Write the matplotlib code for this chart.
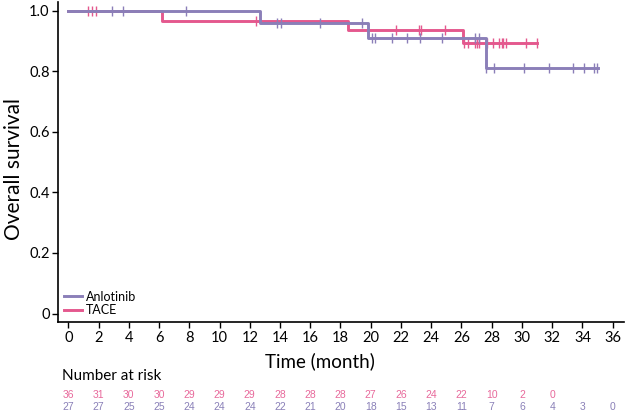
import matplotlib
matplotlib.use("Agg")
import matplotlib.pyplot as plt
import matplotlib.transforms as mtransforms
import numpy as np

# ---- data ----
anl_times = [0, 12.68, 19.8, 27.6, 35.0]
anl_surv = [1.0, 0.960, 0.910, 0.809, 0.809]
anl_cens = [2.87, 3.64, 7.78, 13.78, 14.07, 16.65, 19.4, 20.07, 20.28, 21.43, 22.38,
            23.26, 24.7, 26.9, 27.18, 27.6, 28.15, 30.16, 31.81, 33.4, 34.13, 34.77, 34.95]

tace_times = [0, 6.18, 18.5, 26.1, 31.02]
tace_surv = [1.0, 0.966, 0.936, 0.894, 0.894]
tace_cens = [1.32, 1.59, 1.81, 12.41, 21.67, 23.19, 23.33, 24.93, 26.17, 26.46, 26.9,
             27.01, 27.18, 27.67, 28.1, 28.5, 28.66, 28.77, 28.93, 30.27, 31.02]

risk_times_tace = list(range(0, 33, 2))
risk_tace = [36, 31, 30, 30, 29, 29, 29, 28, 28, 28, 27, 26, 24, 22, 10, 2, 0]
risk_times_anl = list(range(0, 37, 2))
risk_anl = [27, 27, 25, 25, 24, 24, 24, 22, 21, 20, 18, 15, 13, 11, 7, 6, 4, 3, 0]

x_ticks = list(range(0, 37, 2))
y_ticks = [0, 0.2, 0.4, 0.6, 0.8, 1.0]
y_ticklabels = ["0", "0.2", "0.4", "0.6", "0.8", "1.0"]

# ---- style ----
C_ANL = "#8b7fb8"
C_TACE = "#e4588e"
C_ANL_TXT = "#8a80b8"
C_TACE_TXT = "#e8699b"
FONT = "Lato"
plt.rcParams["font.family"] = [FONT, "DejaVu Sans"]

fig = plt.figure(figsize=(6.30, 4.13), dpi=100)
ax = fig.add_axes([0.0921, 0.2196, 0.9905 - 0.0921, 0.995 - 0.2196])


def surv_at(times, surv, t):
    idx = np.searchsorted(times, t, side="right") - 1
    return surv[max(idx, 0)]


for times, surv, cens, col, lab, z in [
    (anl_times, anl_surv, anl_cens, C_ANL, "Anlotinib", 3),
    (tace_times, tace_surv, tace_cens, C_TACE, "TACE", 2),
]:
    ax.step(times, surv, where="post", color=col, lw=2.1, label=lab, zorder=z)
    cy = [surv_at(times, surv, t) for t in cens]
    ax.plot(cens, cy, linestyle="none", marker="|", markersize=6.5,
            markeredgewidth=1.0, color=col, zorder=z)

ax.set_xlim(-0.68, 36.75)
ax.set_ylim(-0.029, 1.028)
ax.set_xticks(x_ticks)
ax.set_yticks(y_ticks)
ax.set_yticklabels(y_ticklabels)
ax.tick_params(axis="both", direction="out", length=4, width=1, labelsize=10.5,
               pad=2, color="black")
for s in ["top", "right"]:
    ax.spines[s].set_visible(False)
for s in ["left", "bottom"]:
    ax.spines[s].set_linewidth(1.2)

ax.set_ylabel("Overall survival", fontsize=15)
ax.yaxis.set_label_coords(-0.06, 0.48)
ax.set_xlabel("Time (month)", fontsize=13.5)
ax.xaxis.set_label_coords(0.463, -0.095)

leg = ax.legend(loc="lower left", bbox_to_anchor=(0.0, 0.0), frameon=False,
                fontsize=9, handlelength=1.4, handletextpad=0.3,
                labelspacing=0.1, borderaxespad=0.3, borderpad=0.2)

# number at risk
trans = mtransforms.blended_transform_factory(ax.transData, fig.transFigure)
fig.text(62 / 630, 1 - 376 / 413, "Number at risk", fontsize=11, ha="left", va="center")
for t, n in zip(risk_times_tace, risk_tace):
    ax.text(t, 1 - 395 / 413, str(n), transform=trans, ha="center", va="center",
            fontsize=7.5, color=C_TACE_TXT, family="Liberation Sans")
for t, n in zip(risk_times_anl, risk_anl):
    ax.text(t, 1 - 407 / 413, str(n), transform=trans, ha="center", va="center",
            fontsize=7.5, color=C_ANL_TXT, family="Liberation Sans")

fig.savefig("out.png", dpi=100)
